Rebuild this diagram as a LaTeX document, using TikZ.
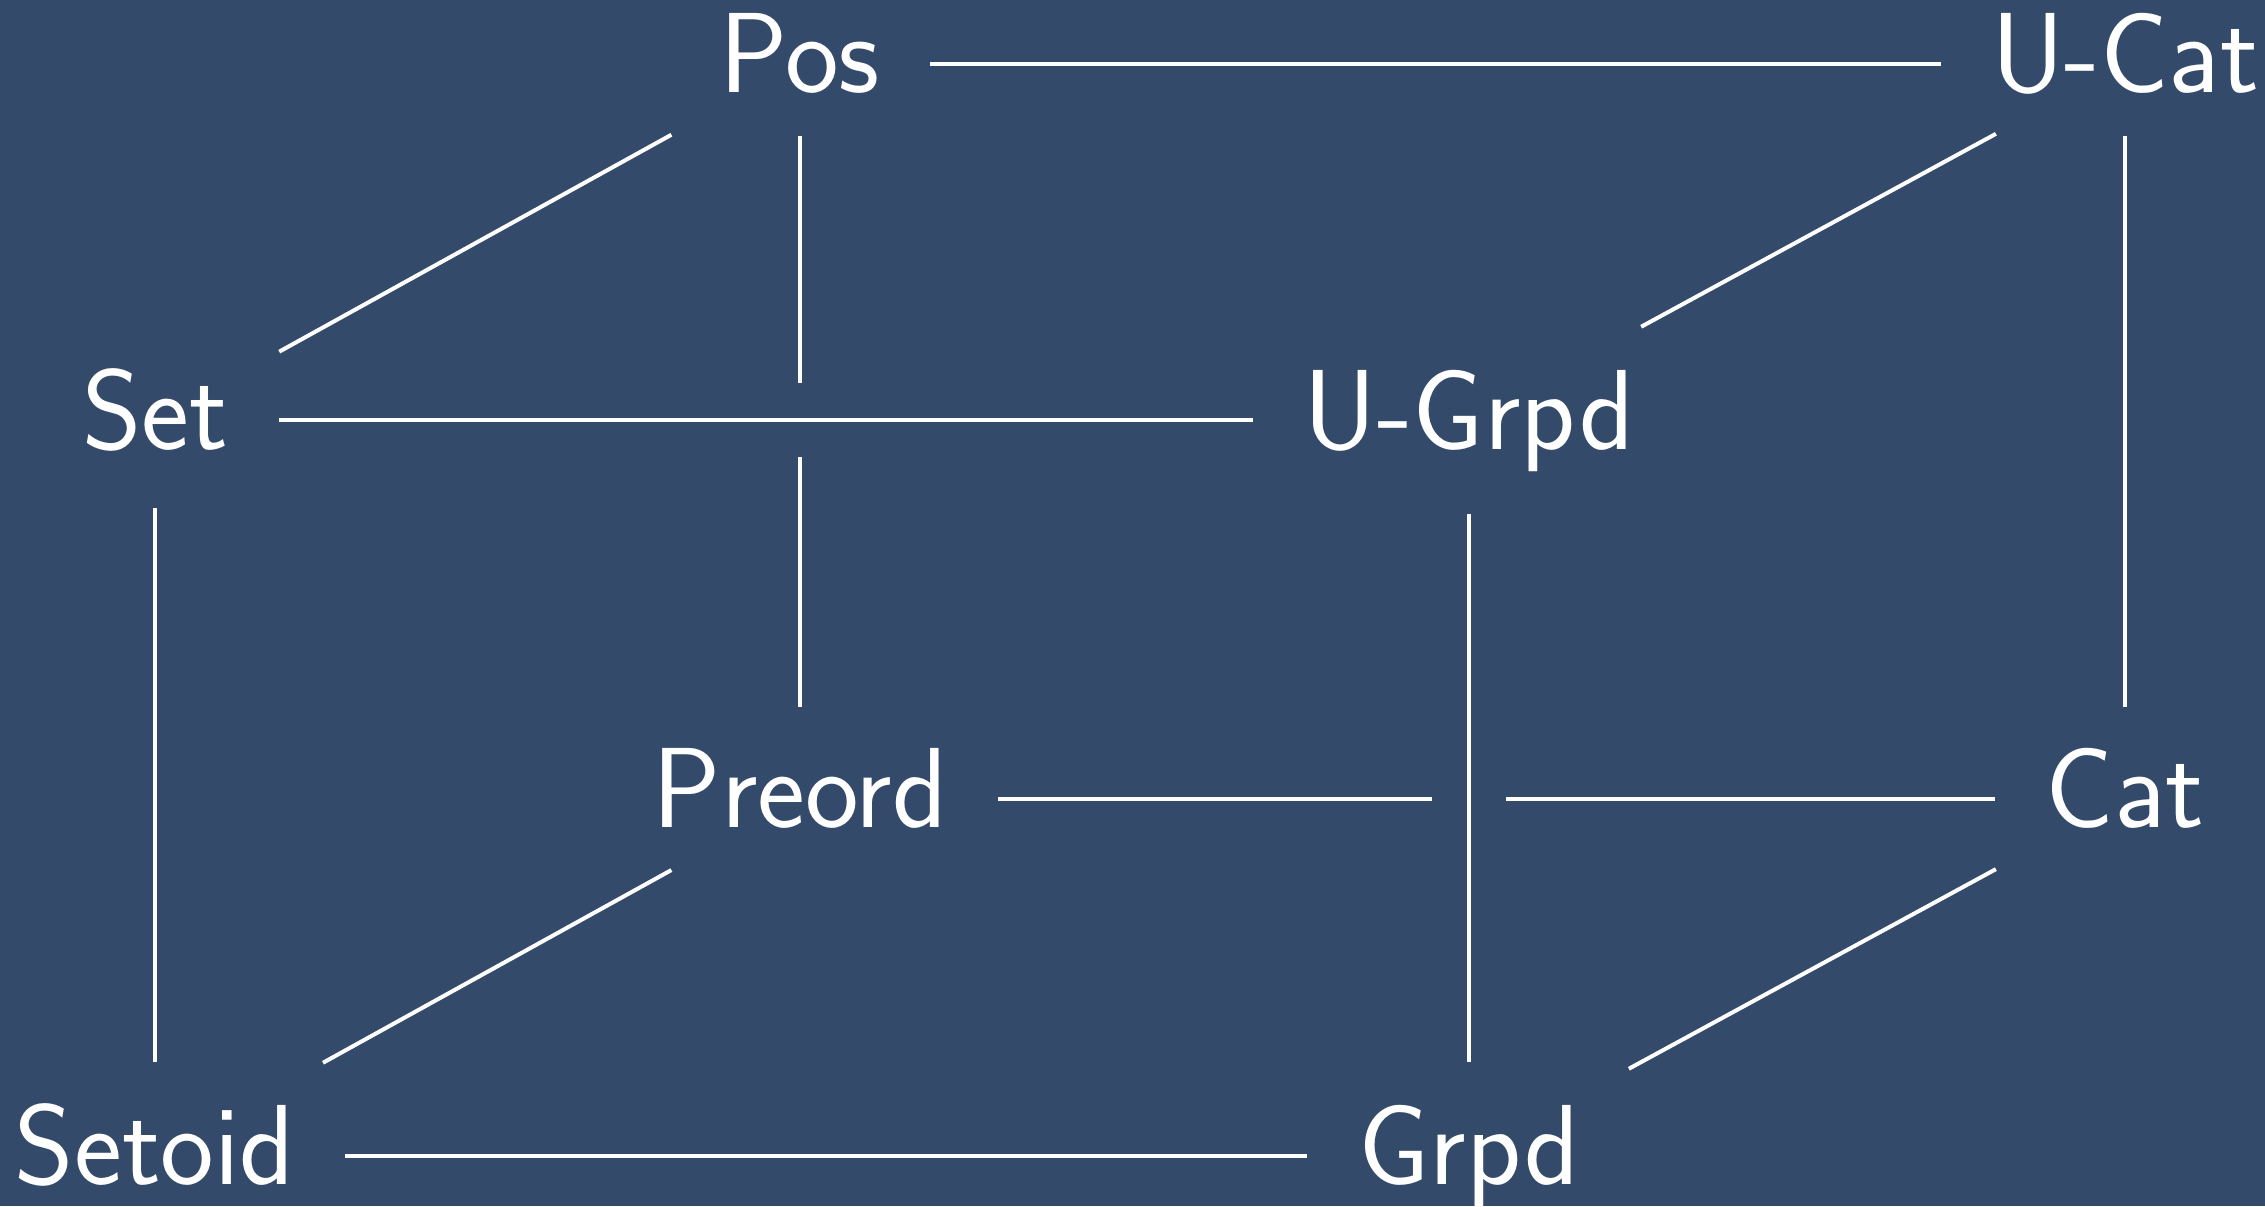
\documentclass[tikz,border=0pt]{standalone}
\usepackage{fontspec}
\definecolor{bg}{HTML}{344A6A}
\tikzset{
  obj/.style={text=white, font=\sffamily\fontsize{57}{68}\selectfont, inner sep=0pt, text height=43pt, text depth=14pt},
  edge/.style={draw=white, line width=2pt},
  over/.style={preaction={draw=bg, line width=37pt}}
}
\begin{document}
\begin{tikzpicture}[x=0.5pt,y=-0.5pt]
\useasboundingbox (0,0) rectangle (2265,1206);
\fill[bg] (0,0) rectangle (2265,1206);
% back face
\node[obj] (pos)    at (800,63.6)   {Pos};
\node[obj] (ucat)   at (2125,63.6)  {U-Cat};
\node[obj] (preord) at (800,798.9)  {Preord};
\node[obj] (cat)    at (2125,798.9) {Cat};
% front face
\node[obj] (set)    at (155,420.4)  {Set};
\node[obj] (ugrpd)  at (1469,420.4) {U-Grpd};
\node[obj] (setoid) at (155,1155.7) {Setoid};
\node[obj] (grpd)   at (1469,1155.7){Grpd};
% back edges
\draw[edge, shorten <=65pt, shorten >=92pt] (pos.center) -- (ucat.center);
\draw[edge, shorten <=36pt, shorten >=46pt] (pos.center) -- (preord.center);
\draw[edge, shorten <=36pt, shorten >=46pt] (ucat.center) -- (cat.center);
\draw[edge, shorten <=99pt, shorten >=65pt] (preord.center) -- (cat.center);
% diagonals
\draw[edge, shorten <=71pt, shorten >=73.5pt] (set.center) -- (pos.center);
\draw[edge, shorten <=98pt, shorten >=73.5pt] (ugrpd.center) -- (ucat.center);
\draw[edge, shorten <=96pt, shorten >=73.5pt] (setoid.center) -- (preord.center);
\draw[edge, shorten <=91pt, shorten >=73.5pt] (grpd.center) -- (cat.center);
% front edges
\draw[edge, shorten <=44pt, shorten >=47pt] (set.center) -- (setoid.center);
\draw[edge, shorten <=95pt, shorten >=81pt] (setoid.center) -- (grpd.center);
\draw[edge, over, shorten <=62pt, shorten >=108pt] (set.center) -- (ugrpd.center);
\draw[edge, over, shorten <=47pt, shorten >=47pt] (ugrpd.center) -- (grpd.center);
\end{tikzpicture}
\end{document}
